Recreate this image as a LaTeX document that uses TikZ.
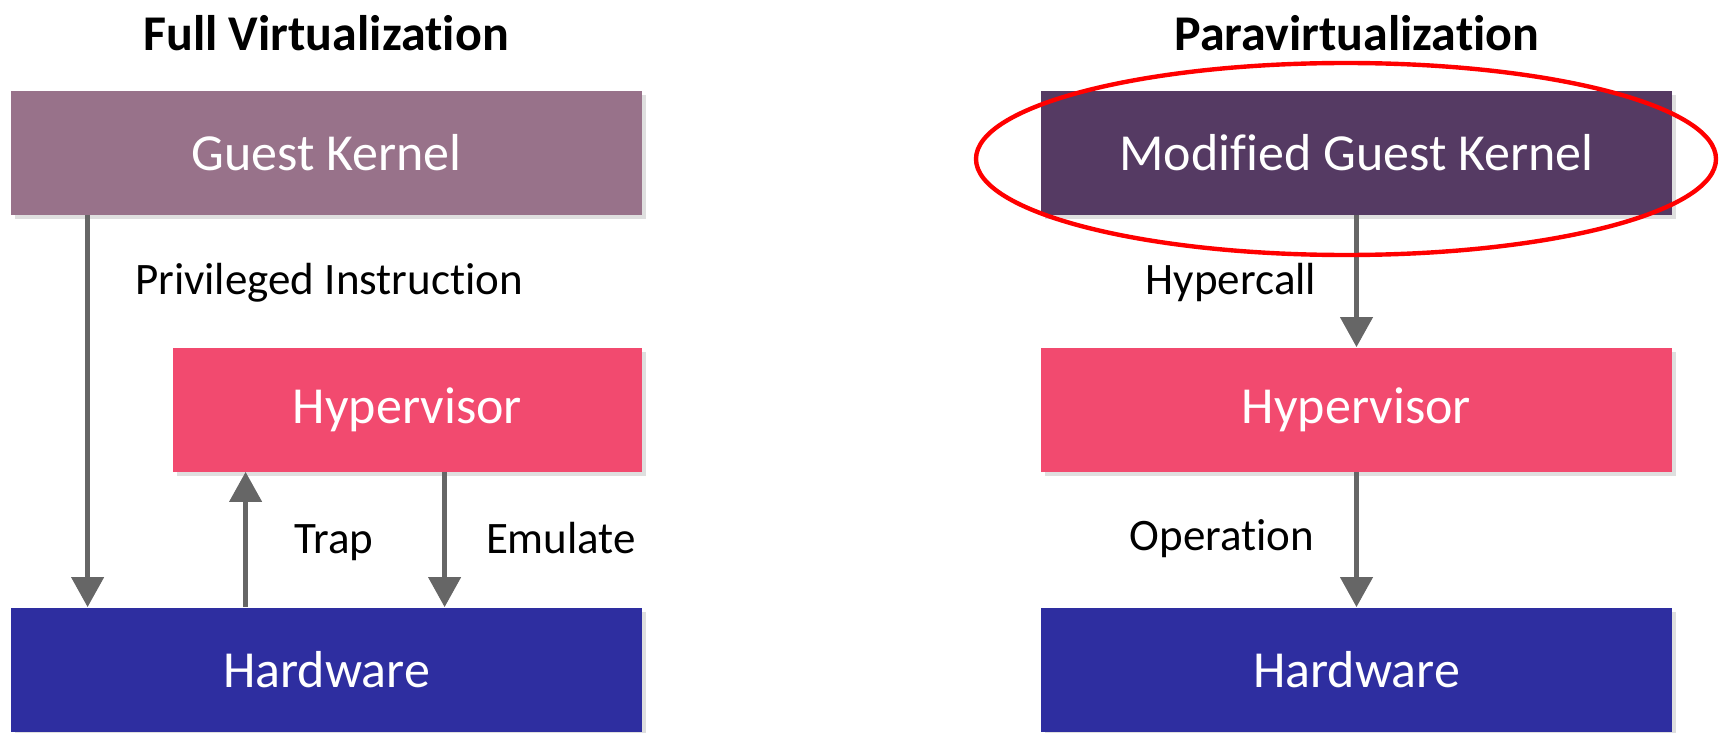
\documentclass[tikz,border=0pt]{standalone}
\usepackage{fontspec}
\setmainfont{Carlito}[Ligatures=NoCommon]
\usepackage{xcolor}
\usepackage{tikz}
\usetikzlibrary{arrows.meta,shadows}

\definecolor{guestcol}{HTML}{98728A}
\definecolor{modcol}{HTML}{553A63}
\definecolor{hypcol}{HTML}{F24A6F}
\definecolor{hwcol}{HTML}{2E2EA0}
\definecolor{arrcol}{HTML}{666666}

\begin{document}
\begin{tikzpicture}[x=0.5pt,y=-0.5pt,
  layer/.style={minimum width=315.5pt,minimum height=62pt,inner sep=0pt,
    text=white,font=\fontsize{26}{30}\selectfont,
    drop shadow={shadow xshift=2pt,shadow yshift=-2pt,opacity=0.25}},
  arr/.style={draw=arrcol,line width=2.2pt,-{Triangle[width=16pt,length=15pt]}},
  lbl/.style={font=\fontsize{22.5}{26}\selectfont},
  ttl/.style={font=\bfseries\fontsize{25}{30}\selectfont}]
\useasboundingbox (0,0) rectangle (1719,733);

% full virtualization
\node[ttl] (ttlfull) at (326,33) {Full Virtualization};
\node[layer,fill=guestcol] (gk) at (326.5,153) {Guest Kernel};
\node[layer,fill=hypcol,minimum width=234.5pt] (hv1) at (407.5,409.5) {Hypervisor};
\node[layer,fill=hwcol] (hw1) at (326.5,669.5) {Hardware};
\draw[arr] ([xshift=38.5pt]gk.south west) -- ([xshift=38.5pt]hw1.north west);
\draw[arr] ([xshift=117.5pt]hw1.north west) -- ([xshift=36.5pt]hv1.south west);
\draw[arr] ([xshift=136pt]hv1.south west) -- ([xshift=217pt]hw1.north west);
\node[lbl] (priv) at (329,283) {Privileged Instruction};
\node[lbl,anchor=base] (trap) at (334,553) {Trap};
\node[lbl,anchor=base] (emul) at (561,553) {Emulate};

% paravirtualization
\node[ttl] (ttlpara) at (1357,33) {Paravirtualization};
\node[layer,fill=modcol] (mgk) at (1356.5,153) {Modified Guest Kernel};
\node[layer,fill=hypcol] (hv2) at (1356.5,409.5) {Hypervisor};
\node[layer,fill=hwcol] (hw2) at (1356.5,669.5) {Hardware};
\draw[arr] (mgk.south) -- (hv2.north);
\draw[arr] (hv2.south) -- (hw2.north);
\node[lbl] (hcall) at (1231,283) {Hypercall};
\node[lbl] (oper) at (1222,539) {Operation};

% highlight
\draw[red,line width=2.2pt] (1346,159) ellipse [x radius=370,y radius=96];

\end{tikzpicture}
\end{document}
